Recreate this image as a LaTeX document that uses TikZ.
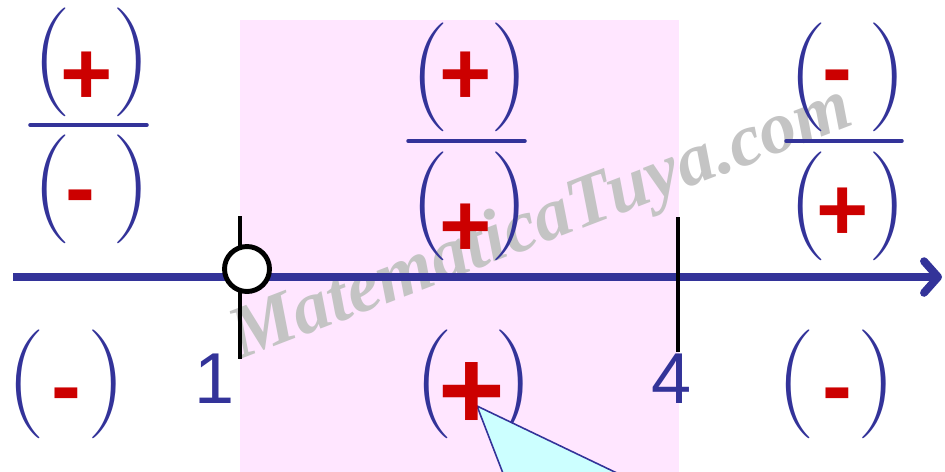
\documentclass[tikz,border=0pt]{standalone}
\usepackage{fontspec}
\newfontfamily\timesfont{Liberation Serif}
\newfontfamily\arialfont{Liberation Sans}
\usetikzlibrary{arrows.meta}
\definecolor{axblue}{HTML}{333399}
\definecolor{sgnred}{HTML}{CC0000}
\definecolor{bandpink}{HTML}{FFE6FF}
\definecolor{callcyan}{HTML}{CCFFFF}
\definecolor{wmgray}{HTML}{C4C4C4}

\begin{document}
\begin{tikzpicture}[x=0.02cm,y=-0.02cm,
    paren/.style={axblue,inner sep=0pt,font=\fontsize{62}{62}\selectfont},
    sgn/.style={sgnred,inner sep=0pt,font=\arialfont\bfseries\fontsize{51}{51}\selectfont},
    bigsgn/.style={sgnred,inner sep=0pt,font=\arialfont\bfseries\fontsize{65}{65}\selectfont},
    bound/.style={black,line width=2.1pt},
    fracbar/.style={axblue,line width=2pt,line cap=round},
    numlbl/.style={axblue,inner sep=0pt,font=\arialfont\fontsize{41}{41}\selectfont}]

  % =====================================================================
  % Frame (pixel grid of the sketch, y pointing down)
  % =====================================================================
  \path[use as bounding box] (0,0) rectangle (945,471);
  \clip (0,0) rectangle (945,471);

  % Solution band 1 < x < 4
  \fill[bandpink] (240,20) rectangle (679,480);

  % Watermark
  \node[wmgray,rotate=21,anchor=base west,inner sep=0pt,
        font=\timesfont\bfseries\itshape\fontsize{42}{42}\selectfont] (wmark) at (240,360)
        {MatematicaTuya.com};

  % =====================================================================
  % Number line
  % =====================================================================
  \coordinate (axL) at (13,277);
  \coordinate (axR) at (942,277);
  \draw[axblue,line width=4.5pt,-{Straight Barb[length=8pt,width=18pt,round]}] (axL) -- (axR);

  % Critical points
  \draw[bound] (240,216) -- (240,359);
  \draw[bound] (678,217) -- (678,352);
  \node[circle,draw=black,fill=white,line width=2.8pt,minimum size=0.9cm,inner sep=0pt]
        (hole) at (247,269) {};
  \node[numlbl] (one) at (215,379) {1};
  \node[numlbl] (four) at (672,379) {4};

  % =====================================================================
  % Sign of each factor on each interval
  % =====================================================================
  \foreach \nm/\xl/\xr/\yp/\xs/\ys/\sg in {
      LT/52/132/62/87/78/+, LB/52/132/189/80/204/-,
      MT/430/510/77/466/78/+, MB/430/510/206/466/230/+,
      RT/808/888/77/837/84/-, RB/808/888/206/843/214/+,
      Lq/26/107/384/66/402/-, Rq/796/877/384/837/402/-} {
    \node[paren] (pl\nm) at (\xl,\yp) {(};
    \node[paren] (pr\nm) at (\xr,\yp) {)};
    \node[sgn] (sg\nm) at (\xs,\ys) {\sg};
  }

  % Fraction bars
  \draw[fracbar] (30,125) -- (147,125);
  \draw[fracbar] (408,141) -- (525,141);
  \draw[fracbar] (786,141) -- (902,141);

  % Quotient sign in the band, with callout
  \node[paren] (plMq) at (434,384) {(};
  \node[paren] (prMq) at (514,384) {)};
  \coordinate (midSgn) at (472,396);
  \coordinate (calTip) at ([shift={(5,10)}]midSgn);
  \coordinate (calA) at (521,520);
  \coordinate (calB) at (715,520);
  \draw[axblue,fill=callcyan,line width=0.9pt,line join=round] (calTip) -- (calA) -- (calB) -- cycle;
  \node[bigsgn] (sgMq) at (midSgn) {+};

\end{tikzpicture}
\end{document}
